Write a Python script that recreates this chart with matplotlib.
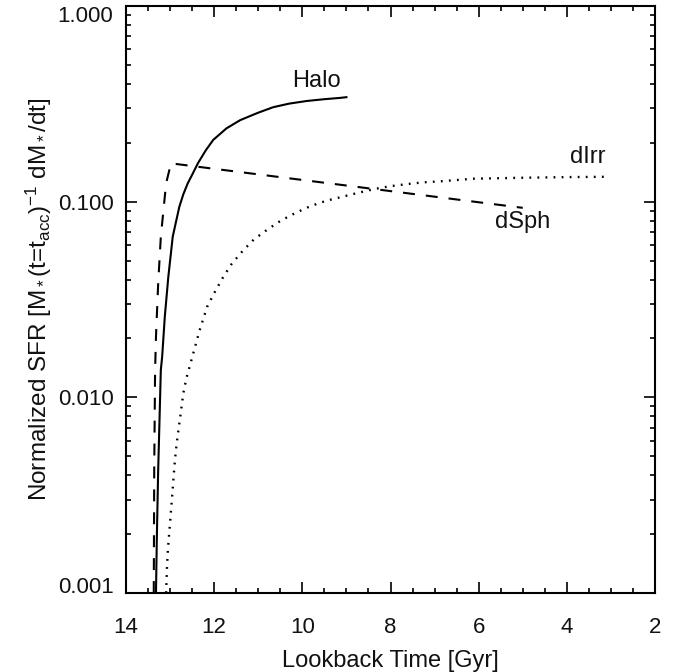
import numpy as np
import matplotlib
matplotlib.use('Agg')
from matplotlib import pyplot as plt
from matplotlib import ticker

plt.rcParams['font.family'] = ['Liberation Sans', 'DejaVu Sans']
plt.rcParams['mathtext.fontset'] = 'custom'
plt.rcParams['mathtext.rm'] = 'Liberation Sans'
plt.rcParams['mathtext.it'] = 'Liberation Sans'
plt.rcParams['mathtext.default'] = 'rm'
plt.rcParams['lines.scale_dashes'] = False

# lookback time [Gyr] and normalized SFR
halo_t = [13.32, 13.30, 13.27, 13.21, 13.18, 13.12, 13.04, 12.94, 12.86, 12.79, 12.70, 12.60,
          12.48, 12.37, 12.19, 12.02, 11.72, 11.41, 11.0, 10.66, 10.3, 9.90, 9.50, 9.15, 9.0]
halo_sfr = [0.001, 0.00194, 0.00425, 0.0138, 0.0161, 0.0258, 0.0413, 0.0662, 0.080, 0.0942, 0.109, 0.124,
            0.140, 0.157, 0.183, 0.207, 0.237, 0.261, 0.285, 0.304, 0.317, 0.327, 0.334, 0.339, 0.342]

dsph_t = [13.37, 13.36, 13.34, 13.32, 13.27, 13.21, 13.09, 12.98, 5.0]
dsph_sfr = [0.001, 0.00425, 0.0138, 0.0204, 0.0382, 0.0662, 0.124, 0.157, 0.093]

dirr_t = [13.09, 13.07, 13.05, 13.02, 12.99, 12.96, 12.92, 12.89, 12.85, 12.80,
          12.75, 12.70, 12.63, 12.48, 12.33, 12.16, 11.99, 11.80, 11.60, 11.35,
          11.10, 10.79, 10.48, 10.15, 9.81, 9.46, 9.09, 8.73, 8.37, 8.0,
          7.62, 7.26, 6.88, 6.50, 6.12, 5.0, 4.0, 3.1]
dirr_sfr = [0.001, 0.00136, 0.00166, 0.00202, 0.00245, 0.00299, 0.00393, 0.00478, 0.00582, 0.00708,
            0.0086, 0.0105, 0.0125, 0.0166, 0.022, 0.029, 0.0344, 0.041, 0.0482, 0.0561,
            0.0641, 0.0721, 0.0802, 0.0877, 0.095, 0.101, 0.106, 0.111, 0.116, 0.120,
            0.123, 0.1255, 0.127, 0.129, 0.131, 0.1325, 0.1335, 0.134]

labels = ['Halo', 'dSph', 'dIrr']
label_t = [9.67, 5.0, 3.52]
label_sfr = [0.415, 0.0787, 0.169]

yticks = [0.001, 0.01, 0.1, 1.0]
xticks = [14, 12, 10, 8, 6, 4, 2]

fig = plt.figure(figsize=(6.74, 6.72), dpi=100)
ax = fig.add_axes([126/674, 79/672, 529/674, 587/672])

ax.plot(halo_t, halo_sfr, color='black', lw=1.5, ls='-')
ax.plot(dsph_t, dsph_sfr, color='black', lw=1.5, ls=(0, (8.6, 7.9)))
ax.plot(dirr_t, dirr_sfr, color='black', lw=1.7, ls=(0, (1.3, 4.5)), dash_capstyle='butt')

for name, t, s in zip(labels, label_t, label_sfr):
    ax.text(t, s, name, fontsize=17, ha='center', va='center', color='#111111')

ax.set_yscale('log')
ax.set_xlim(14, 2)
ax.set_ylim(0.001, 1.0)
ax.set_xticks(xticks)
ax.xaxis.set_minor_locator(ticker.MultipleLocator(0.5))
ax.set_yticks(yticks)
ax.yaxis.set_major_formatter(ticker.FuncFormatter(lambda v, p: '%.3f' % v))
ax.yaxis.set_minor_locator(ticker.LogLocator(base=10, subs=np.arange(2, 10)))
ax.yaxis.set_minor_formatter(ticker.NullFormatter())

ax.tick_params(which='both', direction='in', top=True, right=True, width=1.2,
               labelsize=16, labelcolor='#111111')
ax.tick_params(which='major', length=8)
ax.tick_params(which='minor', length=3.6)
ax.tick_params(axis='x', which='major', pad=17)
ax.tick_params(axis='y', which='major', pad=9)
for sp in ax.spines.values():
    sp.set_linewidth(1.5)

ax.set_xlabel('Lookback Time [Gyr]', fontsize=17, labelpad=9, color='#111111')
ax.set_ylabel('Normalized SFR [M$_*$(t=t$_{acc}$)$^{-1}$ dM$_*$/dt]', fontsize=17.5,
              labelpad=3, color='#111111')

fig.canvas.draw()
ylabs = ax.get_yticklabels()
ylabs[0].set_va('baseline')
ylabs[-1].set_va('top')

plt.savefig('out.png', dpi=100)
